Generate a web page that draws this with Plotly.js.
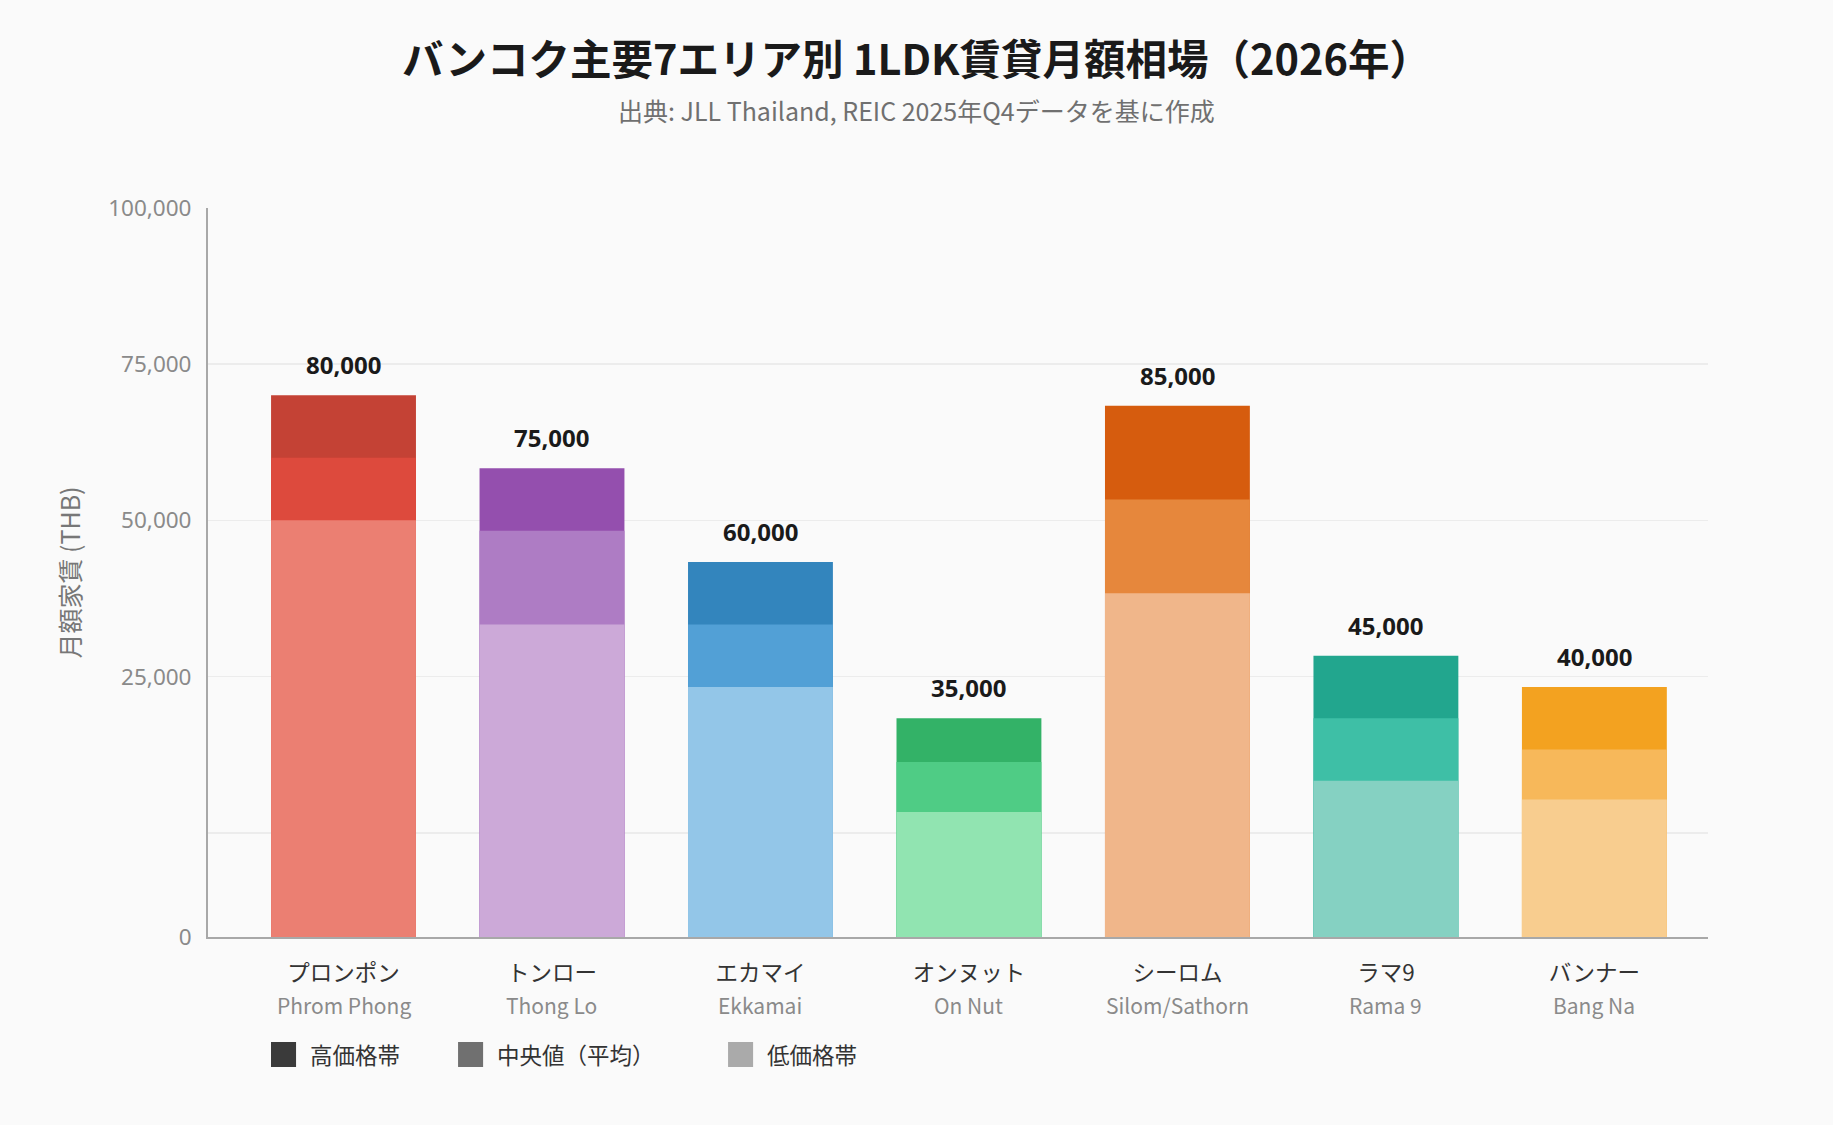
<!DOCTYPE html>
<html>
<head>
<meta charset="utf-8">
<script src="https://cdn.plot.ly/plotly-3.0.1.min.js"></script>
<style>
  html, body { margin: 0; padding: 0; background: #fafafa; }
  #chart { width: 1833px; height: 1125px; }
</style>
</head>
<body>
<div id="chart"></div>
<script>
// ---- data ----
const areasJa = ['プロンポン', 'トンロー', 'エカマイ', 'オンヌット', 'シーロム', 'ラマ9', 'バンナー'];
const areasEn = ['Phrom Phong', 'Thong Lo', 'Ekkamai', 'On Nut', 'Silom/Sathorn', 'Rama 9', 'Bang Na'];
const lowPrice = [66700, 50000, 40000, 20000, 55000, 25000, 22000];
const medianPrice = [76700, 65000, 50000, 28000, 70000, 35000, 30000];
const highPrice = [86700, 75000, 60000, 35000, 85000, 45000, 40000];
const headlineRent = [80000, 75000, 60000, 35000, 85000, 45000, 40000];
const yTickText = ['0', '', '25,000', '50,000', '75,000', '100,000'];
const legendLabels = ['高価格帯', '中央値（平均）', '低価格帯'];

// ---- styles ----
const highColors = ['#c44235', '#944fae', '#3385bd', '#33b267', '#d65c0e', '#22a68e', '#f3a220'];
const midColors  = ['#dd4a3d', '#ae7cc4', '#52a0d6', '#4fcc85', '#e6873c', '#3ebfa6', '#f7b85a'];
const lowColors  = ['#eb7f72', '#cca9d8', '#93c6e8', '#91e4b1', '#f0b68a', '#85d1c2', '#f8cd8f'];
const legendColors = ['#3a3a3a', '#707070', '#aaaaaa'];
const yTickVals = [0, 16667, 41667, 66667, 91667, 116667];

const CJK = '"Noto Sans CJK JP", "Noto Sans", sans-serif';
const NUM = '"Noto Sans", "Noto Sans CJK JP", sans-serif';

function barTrace(vals, colors, name) {
  return {
    type: 'bar', x: areasJa, y: vals, name: name,
    marker: { color: colors, line: { width: 0 } },
    width: 0.695, showlegend: false, hoverinfo: 'y'
  };
}

const data = [
  barTrace(highPrice, highColors, legendLabels[0]),
  barTrace(medianPrice, midColors, legendLabels[1]),
  barTrace(lowPrice, lowColors, legendLabels[2])
];

const annotations = [];
areasJa.forEach((a, i) => {
  annotations.push({
    x: a, y: highPrice[i], xref: 'x', yref: 'y', yanchor: 'bottom',
    yshift: 12, showarrow: false,
    text: '<b>' + headlineRent[i].toLocaleString('en-US') + '</b>',
    font: { family: NUM, size: 24, color: '#1a1a1a' }
  });
  annotations.push({
    x: a, y: -0.093, xref: 'x', yref: 'paper', yanchor: 'middle',
    showarrow: false, text: areasEn[i],
    font: { family: CJK, size: 21, color: '#8a8a8a' }
  });
});

annotations.push({
  xref: 'paper', yref: 'paper', x: 0.4723, y: 1.1345, xanchor: 'center', yanchor: 'middle',
  showarrow: false, text: '出典: JLL Thailand, REIC 2025年Q4データを基に作成',
  font: { family: CJK, size: 25, color: '#707070' }
});

const shapes = [];
const legX = [0.042, 0.1667, 0.3467];
const legTextX = [0.0665, 0.1912, 0.3712];
legendLabels.forEach((lab, i) => {
  shapes.push({
    type: 'rect', xref: 'paper', yref: 'paper',
    x0: legX[i], x1: legX[i] + 0.0167, y0: -0.1783, y1: -0.144,
    fillcolor: legendColors[i], line: { width: 0 }
  });
  annotations.push({
    xref: 'paper', yref: 'paper', x: legTextX[i], y: -0.1605,
    xanchor: 'left', yanchor: 'middle', showarrow: false, text: lab,
    font: { family: CJK, size: 22.5, color: '#333333' }
  });
});

const layout = {
  width: 1833, height: 1125,
  paper_bgcolor: '#fafafa', plot_bgcolor: '#fafafa',
  margin: { l: 208, r: 125, t: 208, b: 188 },
  barmode: 'overlay',
  title: {
    text: '<b>バンコク主要7エリア別 1LDK賃貸月額相場（2026年）</b>',
    font: { family: CJK, size: 41.5, color: '#1a1a1a' },
    xref: 'container', x: 0.5, xanchor: 'center',
    yref: 'container', y: 0.9462, yanchor: 'middle'
  },
  xaxis: {
    type: 'category', range: [-0.65, 6.545],
    showline: true, linecolor: '#a8a8a8', linewidth: 2,
    showgrid: false, ticks: '', ticklabelstandoff: 15,
    tickfont: { family: CJK, size: 22.5, color: '#333333' }
  },
  yaxis: {
    range: [0, 116667],
    tickvals: yTickVals, ticktext: yTickText,
    showline: true, linecolor: '#a8a8a8', linewidth: 2,
    showgrid: true, gridcolor: '#ececec', gridwidth: 1.5,
    zeroline: false, ticks: '', ticklabelstandoff: 10,
    tickfont: { family: NUM, size: 22.5, color: '#8a8a8a' },
    title: { text: '月額家賃 (THB)', standoff: 20,
             font: { family: CJK, size: 25, color: '#777777' } }
  },
  annotations: annotations,
  shapes: shapes,
  showlegend: false
};

Plotly.newPlot('chart', data, layout, { displayModeBar: false, staticPlot: true });
</script>
</body>
</html>
